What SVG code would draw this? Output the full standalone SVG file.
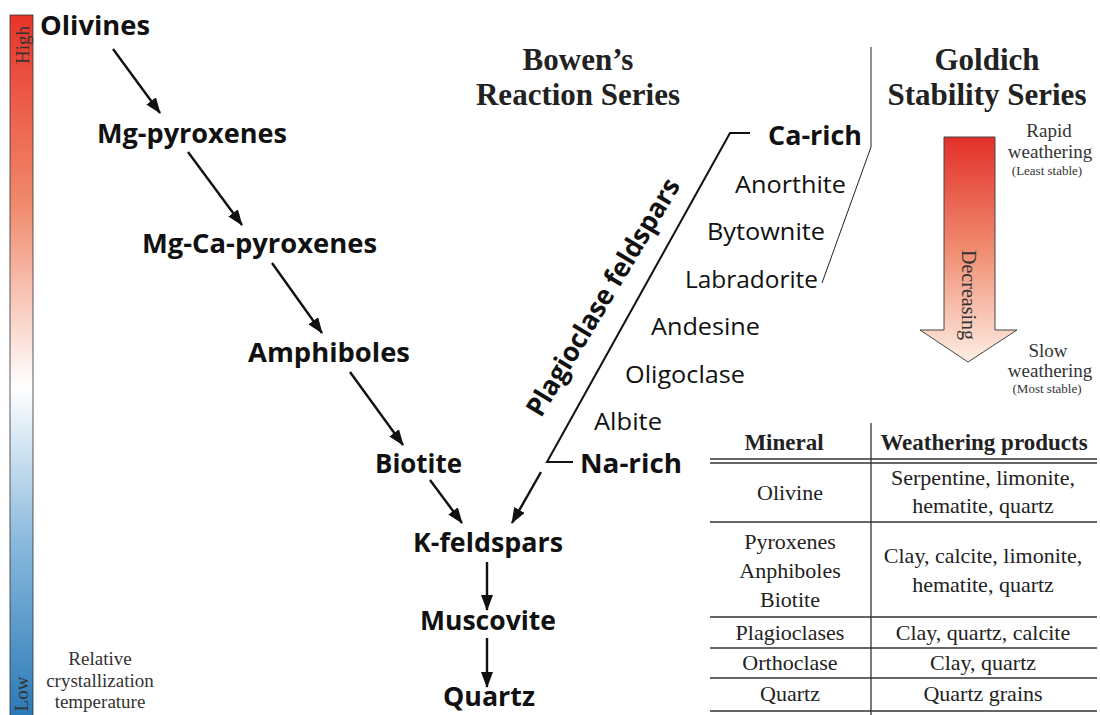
<svg xmlns="http://www.w3.org/2000/svg" width="1100" height="715" viewBox="0 0 1100 715">
<style>
.node{font-family:"Open Sans","Liberation Sans",sans-serif;font-weight:700;font-size:27px;fill:#111}
.plag{font-family:"Open Sans","Liberation Sans",sans-serif;font-size:24px;fill:#111}
.title{font-family:"Liberation Serif",serif;font-weight:700;font-size:31px;fill:#222;text-anchor:middle}
.ser{font-family:"Liberation Serif",serif;fill:#333;text-anchor:middle}
.tbl{font-family:"Liberation Serif",serif;font-size:22px;fill:#222;text-anchor:middle}
.tblh{font-family:"Liberation Serif",serif;font-size:23px;font-weight:700;fill:#222;text-anchor:middle}
.arrow{stroke:#111;stroke-width:2.4;fill:none;marker-end:url(#ah)}
.thin{stroke:#222;stroke-width:1;fill:none}
.brk{stroke:#111;stroke-width:2;fill:none}
.rule{stroke:#333;stroke-width:1.3}
</style>
<defs>
<linearGradient id="temp" x1="0" y1="0" x2="0" y2="1">
<stop offset="0" stop-color="#e8342a"/>
<stop offset="0.27" stop-color="#f08a6c"/>
<stop offset="0.53" stop-color="#ffffff"/>
<stop offset="0.75" stop-color="#8ab9dd"/>
<stop offset="1" stop-color="#2a79b6"/>
</linearGradient>
<linearGradient id="weath" x1="0" y1="0" x2="0" y2="1">
<stop offset="0" stop-color="#e3302a"/>
<stop offset="0.5" stop-color="#f08c70"/>
<stop offset="1" stop-color="#fdeee4"/>
</linearGradient>
<marker id="ah" markerUnits="userSpaceOnUse" markerWidth="16" markerHeight="12" refX="15" refY="6" orient="auto">
<path d="M0,0 L16,6 L0,12 z" fill="#111"/>
</marker>
</defs>

<g id="temperature-bar">
<rect x="10" y="15" width="23" height="702" fill="url(#temp)" stroke="#333" stroke-width="0.8"/>
<text class="ser" font-size="19" transform="translate(29,45) rotate(-90)" fill="#333">High</text>
<text class="ser" font-size="19" transform="translate(28,694) rotate(-90)" fill="#333">Low</text>
<text class="ser" font-size="19" x="100" y="665">Relative</text>
<text class="ser" font-size="19" x="100" y="687">crystallization</text>
<text class="ser" font-size="19" x="100" y="708">temperature</text>
</g>

<g id="titles">
<text class="title" x="578" y="70">Bowen’s</text>
<text class="title" x="578" y="105">Reaction Series</text>
<text class="title" x="987" y="70">Goldich</text>
<text class="title" x="987" y="105">Stability Series</text>
</g>

<g id="olivines"><text class="node" x="40" y="35" textLength="110" lengthAdjust="spacingAndGlyphs">Olivines</text></g>
<g id="mg-pyroxenes"><text class="node" x="97" y="143" textLength="190" lengthAdjust="spacingAndGlyphs">Mg-pyroxenes</text></g>
<g id="mg-ca-pyroxenes"><text class="node" x="142" y="253" textLength="235" lengthAdjust="spacingAndGlyphs">Mg-Ca-pyroxenes</text></g>
<g id="amphiboles"><text class="node" x="248" y="362" textLength="162" lengthAdjust="spacingAndGlyphs">Amphiboles</text></g>
<g id="biotite"><text class="node" x="375" y="473" textLength="87" lengthAdjust="spacingAndGlyphs">Biotite</text></g>
<g id="k-feldspars"><text class="node" x="413" y="552" textLength="150" lengthAdjust="spacingAndGlyphs">K-feldspars</text></g>
<g id="muscovite"><text class="node" x="420" y="630" textLength="136" lengthAdjust="spacingAndGlyphs">Muscovite</text></g>
<g id="quartz"><text class="node" x="443" y="706" textLength="92" lengthAdjust="spacingAndGlyphs">Quartz</text></g>

<g id="plagioclase">
<text class="node" x="768" y="145" textLength="94" lengthAdjust="spacingAndGlyphs">Ca-rich</text>
<text class="plag" x="735" y="193" textLength="111" lengthAdjust="spacingAndGlyphs">Anorthite</text>
<text class="plag" x="707" y="240" textLength="118" lengthAdjust="spacingAndGlyphs">Bytownite</text>
<text class="plag" x="685" y="288" textLength="133" lengthAdjust="spacingAndGlyphs">Labradorite</text>
<text class="plag" x="651" y="335" textLength="109" lengthAdjust="spacingAndGlyphs">Andesine</text>
<text class="plag" x="625" y="383" textLength="120" lengthAdjust="spacingAndGlyphs">Oligoclase</text>
<text class="plag" x="594" y="430" textLength="68" lengthAdjust="spacingAndGlyphs">Albite</text>
<text class="node" x="580" y="473" textLength="102" lengthAdjust="spacingAndGlyphs">Na-rich</text>
<text class="node" font-size="27" text-anchor="middle" textLength="272" lengthAdjust="spacingAndGlyphs" transform="translate(611,302) rotate(-59)">Plagioclase feldspars</text>
<path class="brk" d="M750,133 L730,133 L547,462 L573,462"/>
</g>

<g id="goldich-arrow">
<path d="M944,137 L995,137 L995,330 L1017,330 L968,362 L920,330 L944,330 Z" fill="url(#weath)" stroke="#444" stroke-width="1"/>
<text class="ser" font-size="20" fill="#333" transform="translate(962,295) rotate(90)">Decreasing</text>
<text class="ser" font-size="19" x="1049" y="137">Rapid</text>
<text class="ser" font-size="19" x="1050" y="158">weathering</text>
<text class="ser" font-size="13" x="1047" y="175">(Least stable)</text>
<text class="ser" font-size="19" x="1048" y="357">Slow</text>
<text class="ser" font-size="19" x="1050" y="377">weathering</text>
<text class="ser" font-size="13" x="1047" y="393">(Most stable)</text>
</g>

<g id="connectors">
<path class="arrow" d="M113,49 L160,113"/>
<path class="arrow" d="M188,152 L242,225"/>
<path class="arrow" d="M272,263 L322,333"/>
<path class="arrow" d="M350,372 L403,445"/>
<path class="arrow" d="M430,480 L462,523"/>
<path class="arrow" d="M541,472 L512,523"/>
<path class="arrow" d="M487,562 L487,610"/>
<path class="arrow" d="M487,638 L487,687"/>
<path class="thin" d="M871,47 L871,147 L822,283"/>
</g>

<g id="table">
<line class="rule" x1="871" y1="423" x2="871" y2="715"/>
<line x1="710" y1="459" x2="1097" y2="459" stroke="#333" stroke-width="1.5"/>
<line x1="710" y1="463" x2="1097" y2="463" stroke="#333" stroke-width="1.5"/>
<line class="rule" x1="710" y1="522" x2="1097" y2="522"/>
<line class="rule" x1="710" y1="617" x2="1097" y2="617"/>
<line class="rule" x1="710" y1="648" x2="1097" y2="648"/>
<line class="rule" x1="710" y1="678" x2="1097" y2="678"/>
<line class="rule" x1="710" y1="711" x2="1097" y2="711"/>
<text class="tblh" x="784" y="450">Mineral</text>
<text class="tblh" x="984" y="450">Weathering products</text>
<text class="tbl" x="790" y="500">Olivine</text>
<text class="tbl" x="983" y="485">Serpentine, limonite,</text>
<text class="tbl" x="983" y="513">hematite, quartz</text>
<text class="tbl" x="790" y="549">Pyroxenes</text>
<text class="tbl" x="790" y="578">Anphiboles</text>
<text class="tbl" x="790" y="607">Biotite</text>
<text class="tbl" x="983" y="563">Clay, calcite, limonite,</text>
<text class="tbl" x="983" y="592">hematite, quartz</text>
<text class="tbl" x="790" y="640">Plagioclases</text>
<text class="tbl" x="983" y="640">Clay, quartz, calcite</text>
<text class="tbl" x="790" y="670">Orthoclase</text>
<text class="tbl" x="983" y="670">Clay, quartz</text>
<text class="tbl" x="790" y="701">Quartz</text>
<text class="tbl" x="983" y="701">Quartz grains</text>
</g>
</svg>
